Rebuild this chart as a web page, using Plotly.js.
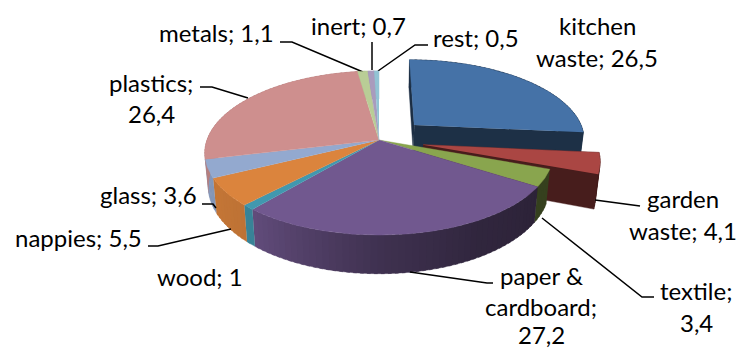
<!DOCTYPE html>
<html>
<head>
<meta charset="utf-8">
<script src="https://cdn.plot.ly/plotly-3.0.1.min.js"></script>
<style>html,body{margin:0;padding:0;background:#fff}#chart{width:741px;height:349px}</style>
</head>
<body>
<div id="chart"></div>
<script>
// Composition of household waste, percent per fraction, clockwise from 12 o'clock
const categories = ["kitchen waste","garden waste","textile","paper & cardboard","wood","nappies","glass","plastics","metals","inert","rest"];
const values = [26.5,4.1,3.4,27.2,1,5.5,3.6,26.4,1.1,0.7,0.5];
const topColors = ["#4572A7","#AA4643","#89A54E","#71588F","#4198AF","#DB843D","#93A9CF","#CE8F8E","#B9CD96","#A99BBD","#92C3D4"];
const exploded = [0.285,0.26,0,0,0,0,0,0,0,0,0];

// Label text, one entry per drawn line
const labelLines = [["kitchen","waste; 26,5"],["garden","waste; 4,1"],["textile;","3,4"],["paper &","cardboard;","27,2"],["wood; 1"],["nappies; 5,5"],["glass; 3,6"],["plastics;","26,4"],["metals; 1,1"],["inert; 0,7"],["rest; 0,5"]];
const labelX = [597,683,696,541,200,78,148,151,216,358,476];
const labelY = [[25,57],[198,230],[290,322],[275,306,334.5],[276],[237],[194],[82,113],[32],[25],[37]];

// Leader polylines in page pixels
const leaders = [
  [[595,200],[640,206]],
  [[542,218],[642,297],[654,297]],
  [[410,272],[487,283],[493,283]],
  [[231,229],[158,246],[148,246]],
  [[216,208],[213,204],[202,204]],
  [[248,98],[212,87],[200,87]],
  [[363,72],[292,42],[280,42]],
  [[372,70],[372,42]],
  [[378,71],[415,45],[428,45]]
];

// Projection of the pie disc: perspective ellipse centred on the apex
const cx = 379, cy = 140, Rx = 172, Ry = 80, persp = 0.1586, depth = 32.5, floorScale = 0.98;
function project(angle, radius, off, level) {
  const a = angle * Math.PI / 180;
  const u = radius * Math.sin(a) + off[0];
  const v = -radius * Math.cos(a) + off[1];
  const s = 1 / (1 - persp * v);
  let x = cx + Rx * u * s;
  let y = cy + Ry * v * s;
  if (level) { x = cx + (x - cx) * floorScale; y += depth * s; }
  return [x, y];
}

// Side wall brightness against angle around the pie
const shadeStops = [[0,0.4],[122,0.39],[150,0.43],[180,0.56],[220,0.86],[240,0.89],[360,0.89]];
function shadeAt(angle) {
  for (let i = 1; i < shadeStops.length; i++) {
    if (angle <= shadeStops[i][0]) {
      const [a0,s0] = shadeStops[i-1], [a1,s1] = shadeStops[i];
      return s0 + (s1 - s0) * (angle - a0) / (a1 - a0);
    }
  }
  return 0.89;
}
function dim(hex, k) {
  const n = parseInt(hex.slice(1), 16);
  const c = [n >> 16, (n >> 8) & 255, n & 255].map(v => Math.round(v * k));
  return `rgb(${c[0]},${c[1]},${c[2]})`;
}
function poly(points, color) {
  return {
    type: "scatter", mode: "lines", x: points.map(p => p[0]), y: points.map(p => p[1]),
    fill: "toself", fillcolor: color, line: {color: color, width: 0.4},
    hoverinfo: "skip", showlegend: false
  };
}

const total = values.reduce((a, b) => a + b, 0);
let running = 0;
const slices = values.map((val, i) => {
  const start = running / total * 360;
  running += val;
  const end = running / total * 360;
  const mid = (start + end) / 2 * Math.PI / 180;
  return {start, end, color: topColors[i], off: [exploded[i] * Math.sin(mid), -exploded[i] * Math.cos(mid)]};
});

function topFace(s) {
  const pts = [project(0, 0, s.off, 0)];
  for (let a = s.start; a < s.end; a += 1) pts.push(project(a, 1, s.off, 0));
  pts.push(project(s.end, 1, s.off, 0));
  return poly(pts, s.color);
}
function wallFaces(s) {
  const out = [];
  const step = 2;
  for (let a = s.start; a < s.end; a += step) {
    const b = Math.min(a + step, s.end), c = Math.min(a + step * 1.5, s.end);
    out.push(poly([project(a,1,s.off,0), project(c,1,s.off,0), project(c,1,s.off,1), project(a,1,s.off,1)], dim(s.color, shadeAt((a + b) / 2))));
  }
  return out;
}
function radialFace(s, angle, k) {
  return poly([project(0,0,s.off,0), project(angle,1,s.off,0), project(angle,1,s.off,1), project(0,0,s.off,1)], dim(s.color, k));
}

const traces = [];
// Pulled-out slices go first, everything else sits in front of them
slices.filter(s => s.off[0] !== 0).forEach(s => {
  traces.push(radialFace(s, s.start, 0.4));
  traces.push(...wallFaces(s));
  traces.push(radialFace(s, s.end, 0.42));
  traces.push(topFace(s));
});
const body = slices.filter(s => s.off[0] === 0 && s.off[1] === 0);
body.forEach(s => traces.push(...wallFaces(s)));
leaders.forEach(l => traces.push({
  type: "scatter", mode: "lines", x: l.map(p => p[0]), y: l.map(p => p[1]),
  line: {color: "#000", width: 1.5}, hoverinfo: "skip", showlegend: false
}));
body.forEach(s => traces.push(topFace(s)));

const annotations = [];
labelLines.forEach((lines, i) => lines.forEach((text, j) => annotations.push({
  text, x: labelX[i], y: labelY[i][j], xref: "x", yref: "y",
  xanchor: "center", yanchor: "middle", showarrow: false,
  font: {family: "Lato", size: 24, color: "#000"}
})));

const hidden = {visible: false, fixedrange: true};
Plotly.newPlot("chart", traces, {
  width: 741, height: 349,
  margin: {l: 0, r: 0, t: 0, b: 0},
  paper_bgcolor: "#fff", plot_bgcolor: "#fff",
  xaxis: {...hidden, range: [0, 741]},
  yaxis: {...hidden, range: [349, 0]},
  annotations, showlegend: false
}, {displayModeBar: false, staticPlot: true});
</script>
</body>
</html>
